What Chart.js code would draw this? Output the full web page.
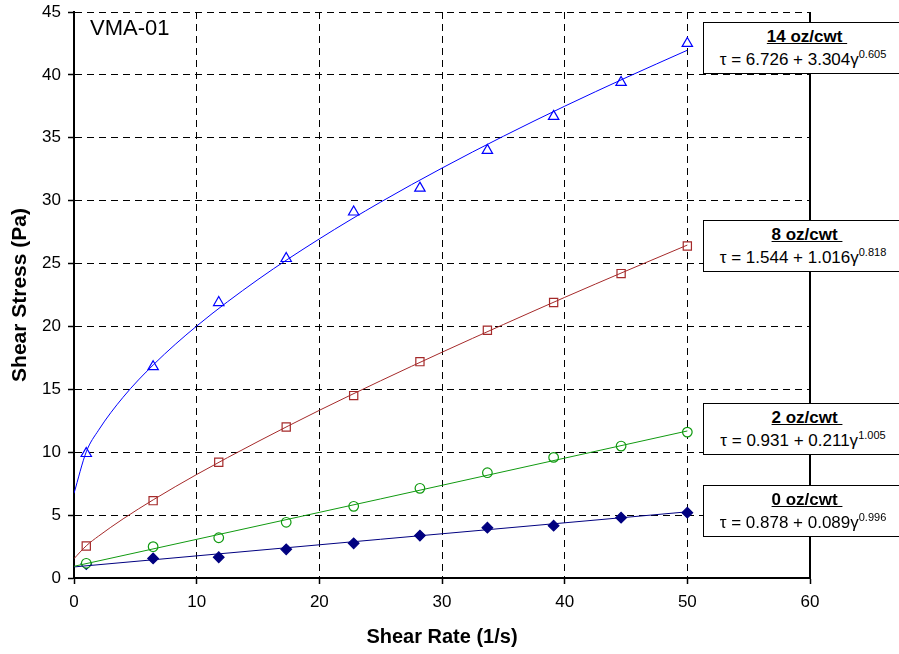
<!DOCTYPE html>
<html>
<head>
<meta charset="utf-8">
<script src="https://cdn.jsdelivr.net/npm/chart.js@4.4.1/dist/chart.umd.min.js"></script>
<style>
  html, body { margin: 0; padding: 0; background: #fff; }
  #wrap { position: relative; width: 899px; height: 654px; overflow: hidden; font-family: "Liberation Sans", Arial, sans-serif; }
  canvas { position: absolute; left: 0; top: 0; }
  .box { position: absolute; left: 703px; width: 206px; height: 50px; border: 1px solid #000; background: #fff; color: #000; }
  .box .t { position: absolute; left: 0; right: 0; top: 4px; text-align: center; font-weight: bold; font-size: 17px; line-height: 20px; }
  .box .t span { text-decoration: underline; white-space: pre; }
  .box .e { position: absolute; left: 0; right: 0; top: 27px; text-align: center; font-size: 17px; line-height: 20px; white-space: nowrap; padding-right: 8px; }
  .box .e sup { font-size: 11px; vertical-align: 0; position: relative; top: -7px; }
  #vma { position: absolute; left: 90px; top: 15px; font-size: 22px; color: #000; }
</style>
</head>
<body>
<div id="wrap">
  <canvas id="c" width="899" height="654"></canvas>
  <div id="vma">VMA-01</div>
</div>
<script>
// ---- data ----
const shearRate = [1, 6.45, 11.8, 17.3, 22.8, 28.2, 33.7, 39.1, 44.6, 50];
const stress14 = [9.9, 16.8, 21.9, 25.4, 29.1, 31.0, 34.0, 36.7, 39.4, 42.5];
const stress8  = [2.55, 6.15, 9.2, 12.0, 14.5, 17.2, 19.7, 21.9, 24.2, 26.4];
const stress2  = [1.17, 2.49, 3.2, 4.43, 5.7, 7.13, 8.37, 9.59, 10.49, 11.6];
const stress0  = [1.11, 1.56, 1.65, 2.28, 2.76, 3.37, 4.0, 4.16, 4.8, 5.19];

// fitted curves
const fitX14 = [0, 1, 2, 4, 6.5, 10, 15, 20, 25, 30, 35, 40, 45, 50];
const fit14  = [6.73, 10.03, 11.75, 14.37, 16.98, 20.03, 23.73, 26.96, 29.89, 32.59, 35.12, 37.51, 39.78, 41.96];
const fitX8  = [0, 1, 2, 4, 6.5, 10, 15, 20, 25, 30, 35, 40, 45, 50];
const fit8   = [1.54, 2.56, 3.33, 4.70, 6.24, 8.23, 10.85, 13.33, 15.68, 17.95, 20.15, 22.31, 24.41, 26.47];
const fitX2  = [0, 25, 50];
const fit2   = [0.93, 6.29, 11.69];
const fitX0  = [0, 25, 50];
const fit0   = [0.88, 3.08, 5.26];

const seriesNames = ["14 oz/cwt", "8 oz/cwt", "2 oz/cwt", "0 oz/cwt"];
const fitA = ["6.726", "1.544", "0.931", "0.878"];
const fitB = ["3.304", "1.016", "0.211", "0.089"];
const fitN = ["0.605", "0.818", "1.005", "0.996"];

const xTicks = [0, 10, 20, 30, 40, 50, 60];
const yTicks = [0, 5, 10, 15, 20, 25, 30, 35, 40, 45];

// ---- styling ----
const colors = ["#0000FF", "#A52A2A", "#109A10", "#000080"];
const boxTops = [22, 220, 403, 485];

const pts = (xs, ys) => xs.map((x, i) => ({ x: x, y: ys[i] }));

const fitSets = [[fitX14, fit14], [fitX8, fit8], [fitX2, fit2], [fitX0, fit0]];
const markSets = [stress14, stress8, stress2, stress0];
const markStyle = [
  { pointStyle: 'triangle', radius: 6, fill: '#fff' },
  { pointStyle: 'rect', radius: 5.8, fill: '#fff' },
  { pointStyle: 'circle', radius: 4.8, fill: '#fff' },
  { pointStyle: 'rectRot', radius: 5.3, fill: '#000080' }
];

const datasets = [];
fitSets.forEach((f, i) => {
  datasets.push({
    label: seriesNames[i] + ' fit',
    data: pts(f[0], f[1]),
    showLine: true,
    borderColor: colors[i],
    borderWidth: 1,
    pointRadius: 0,
    cubicInterpolationMode: 'monotone',
    fill: false
  });
});
markSets.forEach((ys, i) => {
  datasets.push({
    label: seriesNames[i],
    data: pts(shearRate, ys),
    showLine: false,
    pointStyle: markStyle[i].pointStyle,
    pointRadius: markStyle[i].radius,
    pointBackgroundColor: markStyle[i].fill,
    pointBorderColor: colors[i],
    pointBorderWidth: 1.2
  });
});

const rightBorder = {
  id: 'rightBorder',
  afterDatasetsDraw(chart) {
    const { ctx, chartArea } = chart;
    ctx.save();
    ctx.strokeStyle = '#000';
    ctx.lineWidth = 2;
    ctx.beginPath();
    ctx.moveTo(chartArea.right, chartArea.top);
    ctx.lineTo(chartArea.right, chartArea.bottom);
    ctx.stroke();
    ctx.restore();
  }
};

const tickFont = { family: "'Liberation Sans', Arial, sans-serif", size: 17 };
const titleFont = { family: "'Liberation Sans', Arial, sans-serif", size: 20, weight: 'bold' };

new Chart(document.getElementById('c'), {
  type: 'scatter',
  data: { datasets: datasets },
  options: {
    responsive: false,
    animation: false,
    layout: { padding: { left: 0, top: 12, right: 89, bottom: 0 } },
    plugins: { legend: { display: false }, tooltip: { enabled: false } },
    scales: {
      x: {
        type: 'linear', min: 0, max: 60,
        afterBuildTicks: (s) => { s.ticks = xTicks.map(v => ({ value: v })); },
        afterFit: (s) => { s.height = 76; s.paddingLeft = 0; s.paddingRight = 0; },
        ticks: { font: tickFont, color: '#000', padding: 8, maxRotation: 0 },
        grid: { color: '#000', lineWidth: 1, tickLength: 6, tickColor: '#000', tickWidth: 1.5 },
        border: { color: '#000', width: 2, dash: [7, 5] },
        title: { display: true, text: 'Shear Rate (1/s)', font: titleFont, color: '#000', padding: { top: 0, bottom: 5 } }
      },
      y: {
        type: 'linear', min: 0, max: 45,
        afterBuildTicks: (s) => { s.ticks = yTicks.map(v => ({ value: v })); },
        afterFit: (s) => { s.width = 74; s.paddingTop = 0; s.paddingBottom = 0; },
        ticks: { font: tickFont, color: '#000', padding: 7 },
        grid: { color: '#000', lineWidth: 1, tickLength: 6, tickColor: '#000', tickWidth: 1.5 },
        border: { color: '#000', width: 2, dash: [7, 5] },
        title: { display: true, text: 'Shear Stress (Pa)', font: { family: "'Liberation Sans', Arial, sans-serif", size: 21, weight: 'bold' }, color: '#000', padding: { top: 8, bottom: 0 } }
      }
    }
  },
  plugins: [rightBorder]
});

// legend / equation boxes
const wrap = document.getElementById('wrap');
seriesNames.forEach((name, i) => {
  const b = document.createElement('div');
  b.className = 'box';
  b.style.top = boxTops[i] + 'px';
  b.innerHTML = '<div class="t"><span>' + name + ' </span></div>' +
    '<div class="e">\u03C4 = ' + fitA[i] + ' + ' + fitB[i] + '\u03B3<sup>' + fitN[i] + '</sup></div>';
  wrap.appendChild(b);
});
</script>
</body>
</html>
